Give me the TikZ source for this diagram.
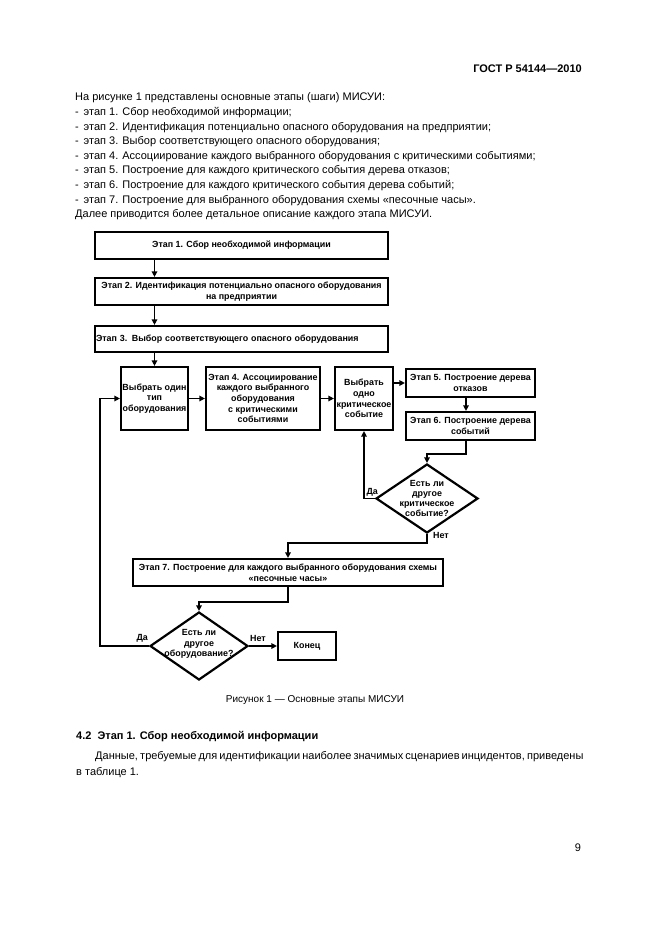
\documentclass[tikz,border=0pt]{standalone}
\usepackage{fontspec}
\setmainfont{Liberation Sans}
\usetikzlibrary{arrows.meta,shapes.geometric}
\newcommand{\bodyf}{\fontsize{11}{13}\selectfont}
\newcommand{\headf}{\fontsize{11}{13}\selectfont}
\newcommand{\diagf}{\fontsize{8.9}{10.6}\selectfont\bfseries}
\newcommand{\diaf}{\fontsize{8.9}{10.2}\selectfont\bfseries}
\tikzset{
  bx/.style={draw,line width=2.2pt,align=center,font=\diagf,inner sep=0.5pt},
  dm/.style={draw,diamond,line width=2.2pt,inner sep=0pt},
  dmtext/.style={align=center,font=\diaf,inner sep=0pt},
  arr/.style={line width=1.8pt,-{Triangle[length=5.5pt,width=5.5pt]}},
  lab/.style={font=\diagf,inner sep=0pt},
  body/.style={font=\bodyf,inner sep=0pt,anchor=west}
}
\begin{document}
\begin{tikzpicture}[x=1pt,y=-1pt]
\useasboundingbox (0,0) rectangle (661,935);
% header and text
\node[font=\headf\bfseries,inner sep=0pt,anchor=east] (hdr) at (582,69) {ГОСТ Р 54144—2010};
\node[body] (t0) at (75,98) {На рисунке 1 представлены основные этапы (шаги) МИСУИ:};
\node[body] (t1) at (75,112.6) {- \,этап 1. Сбор необходимой информации;};
\node[body] (t2) at (75,127.2) {- \,этап 2. Идентификация потенциально опасного оборудования на предприятии;};
\node[body] (t3) at (75,141.9) {- \,этап 3. Выбор соответствующего опасного оборудования;};
\node[body] (t4) at (75,156.5) {- \,этап 4. Ассоциирование каждого выбранного оборудования с критическими событиями;};
\node[body] (t5) at (75,171.1) {- \,этап 5. Построение для каждого критического события дерева отказов;};
\node[body] (t6) at (75,185.7) {- \,этап 6. Построение для каждого критического события дерева событий;};
\node[body] (t7) at (75,200.4) {- \,этап 7. Построение для выбранного оборудования схемы «песочные часы».};
\node[body] (t8) at (75,215) {Далее приводится более детальное описание каждого этапа МИСУИ.};
% diagram boxes
\node[bx,minimum width=293pt,minimum height=27pt] (b1) at (241.5,245.5) {Этап 1. Сбор необходимой информации};
\node[bx,minimum width=293pt,minimum height=27pt] (b2) at (241.5,291.5) {Этап 2. Идентификация потенциально опасного оборудования\\на предприятии};
\node[bx,minimum width=293pt,minimum height=26pt,text width=291pt,align=left] (b3) at (241.5,339) {Этап 3. Выбор соответствующего опасного оборудования};
\node[bx,minimum width=67pt,minimum height=63pt] (v1) at (154.5,398.5) {Выбрать один\\тип\\оборудования};
\node[bx,minimum width=114pt,minimum height=63pt] (s4) at (263,398.5) {Этап 4. Ассоциирование\\каждого выбранного\\оборудования\\с критическими\\событиями};
\node[bx,minimum width=58pt,minimum height=63pt] (v2) at (364,398.5) {Выбрать\\одно\\критическое\\событие};
\node[bx,minimum width=129pt,minimum height=28pt] (s5) at (470.5,383) {Этап 5. Построение дерева\\отказов};
\node[bx,minimum width=129pt,minimum height=28pt] (s6) at (470.5,426) {Этап 6. Построение дерева\\событий};
\node[dm,minimum width=102pt,minimum height=69pt] (d1) at (427,498.5) {};
\node[dmtext] (d1t) at (d1) {Есть ли\\другое\\критическое\\событие?};
\node[bx,minimum width=310pt,minimum height=27pt] (s7) at (288,572.5) {Этап 7. Построение для каждого выбранного оборудования схемы\\«песочные часы»};
\node[dm,minimum width=98pt,minimum height=68pt] (d2) at (199,646) {};
\node[dmtext] (d2t) at (199,644) {Есть ли\\другое\\оборудование?};
\node[bx,minimum width=58pt,minimum height=28pt] (end) at (307,646) {Конец};
% helper coordinates
\coordinate (x56) at (466,400);
\coordinate (loop) at (100,646);
% connectors
\draw[arr] (b1.south -| v1) -- (b2.north -| v1);
\draw[arr] (b2.south -| v1) -- (b3.north -| v1);
\draw[arr] (b3.south -| v1) -- (v1.north);
\draw[arr] (v1) -- (s4);
\draw[arr] (s4) -- (v2);
\draw[arr] (v2.east |- s5.west) -- (s5.west);
\draw[arr] (s5.south -| x56) -- (s6.north -| x56);
\draw[arr] (s6.south -| x56) -- ++(0,13) -| (d1.north);
\draw[arr] (d1.west) -| (v2.south);
\draw[arr] (d1.south) -- ++(0,9) -| (s7.north);
\draw[arr] (s7.south) -- ++(0,15) -| (d2.north);
\draw[arr] (d2.east) -- (end.west);
\draw[arr] (d2.west) -- (loop) |- (v1.west);
% labels
\node[lab,anchor=south east] (da1) at (378,496) {Да};
\node[lab,anchor=north west] (net1) at (433,532) {Нет};
\node[lab,anchor=south east] (da2) at (148,642) {Да};
\node[lab,anchor=south west] (net2) at (250,642) {Нет};
% caption and following text
\node[font=\fontsize{10}{11}\selectfont,inner sep=0pt] (cap) at (315,700) {Рисунок 1 — Основные этапы МИСУИ};
\node[body,font=\headf\bfseries] (sec) at (76,737) {4.2 \ Этап 1. Сбор необходимой информации};
\node[body,font=\headf] (p1) at (95,757) {\makebox[487pt][s]{Данные, требуемые для идентификации наиболее значимых сценариев инцидентов, приведены}};
\node[body,font=\headf] (p2) at (76,773) {в таблице 1.};
\node[font=\headf,inner sep=0pt] (pg) at (578,848) {9};
\end{tikzpicture}
\end{document}
